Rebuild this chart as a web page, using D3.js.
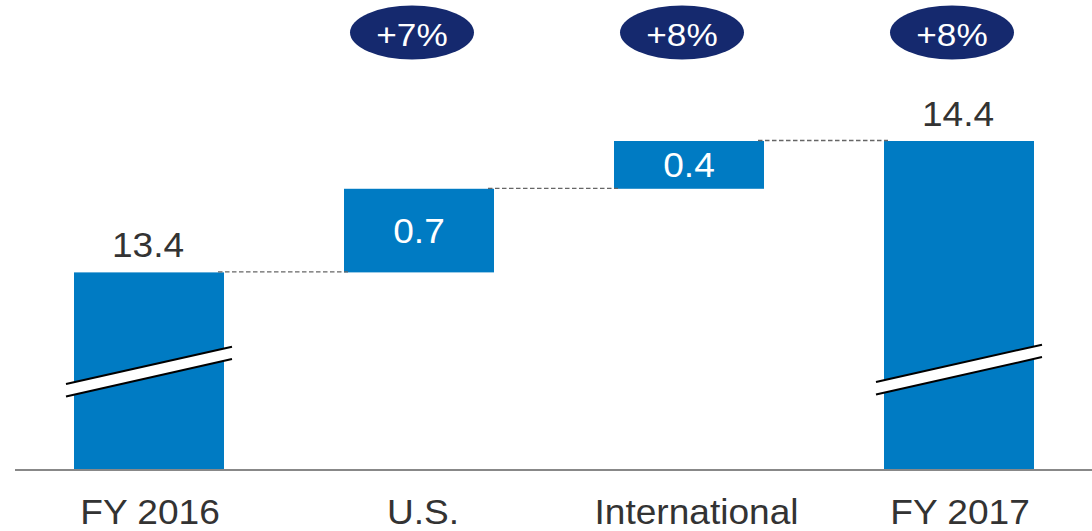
<!DOCTYPE html>
<html>
<head>
<meta charset="utf-8">
<script src="https://cdn.jsdelivr.net/npm/d3@7"></script>
<style>
  html, body { margin: 0; padding: 0; background: #fff; }
  svg { display: block; }
  text { font-family: "Liberation Sans", Arial, sans-serif; }
</style>
</head>
<body>
<svg id="chart" width="1092" height="531"></svg>
<script>
// ---- data ----
const categories = ["FY 2016", "U.S.", "International", "FY 2017"];
const barTypes   = ["total", "delta", "delta", "total"];
const values     = [13.4, 0.7, 0.4, 14.5];
const valueLabels = ["13.4", "0.7", "0.4", "14.4"];
const growthLabels = [null, "+7%", "+8%", "+8%"];
const axisBreakValue = 12.57;  // where the broken-axis mark sits
const yMin = 11.754;           // axis starts here (broken axis)
const yMax = 14.5;

// ---- layout ----
const svg = d3.select("#chart");
const x = d3.scaleBand().domain(categories).range([14, 1094])
  .paddingInner(120 / 270).paddingOuter(60 / 270);
const y = d3.scaleLinear().domain([yMin, yMax]).range([469, 141]);
const labelNudge = [1, 4, 7.5, 1];

const barColor = "#007BC3";
const navy = "#15296E";
const textDark = "#333333";

let running = 0;
const bars = categories.map((c, i) => {
  let lo, hi;
  if (barTypes[i] === "total") { lo = yMin; hi = values[i]; running = values[i]; }
  else { lo = running; hi = running + values[i]; running = hi; }
  return { cat: c, i, type: barTypes[i], lo, hi, label: valueLabels[i], growth: growthLabels[i] };
});

// bars
svg.append("g").selectAll("rect").data(bars).join("rect")
  .attr("x", d => x(d.cat))
  .attr("width", x.bandwidth())
  .attr("y", d => y(d.hi))
  .attr("height", d => y(d.lo) - y(d.hi))
  .attr("fill", barColor);

// dashed connectors
const conn = [];
for (let i = 0; i < bars.length - 1; i++) {
  conn.push({ x1: x(bars[i].cat) + x.bandwidth() - 6, x2: x(bars[i + 1].cat) + 4, v: bars[i].hi });
}
svg.append("g").selectAll("line").data(conn).join("line")
  .attr("x1", d => d.x1).attr("x2", d => d.x2)
  .attr("y1", d => y(d.v) - 0.5).attr("y2", d => y(d.v) - 0.5)
  .attr("stroke", "#666").attr("stroke-width", 1.3)
  .attr("stroke-dasharray", "4.5,2.5");

// axis break marks on total bars
const slope = -0.225, ext = 83, halfGap = 6.2;
const breakG = svg.append("g");
bars.filter(d => d.type === "total").forEach((d, k) => {
  const cx = x(d.cat) + x.bandwidth() / 2;
  const cy = y(axisBreakValue) - (k === 1 ? 2 : 0);
  const yl = cy - slope * ext, yr = cy + slope * ext;
  breakG.append("polygon")
    .attr("points", [
      [cx - ext, yl - halfGap], [cx + ext, yr - halfGap],
      [cx + ext, yr + halfGap], [cx - ext, yl + halfGap]
    ].map(p => p.join(",")).join(" "))
    .attr("fill", "#fff");
  [-halfGap, halfGap].forEach(off => {
    breakG.append("line")
      .attr("x1", cx - ext).attr("y1", yl + off)
      .attr("x2", cx + ext).attr("y2", yr + off)
      .attr("stroke", "#000").attr("stroke-width", 2);
  });
});

// baseline axis line
svg.append("line")
  .attr("x1", 15).attr("x2", 1092)
  .attr("y1", 470).attr("y2", 470)
  .attr("stroke", "#888").attr("stroke-width", 2);

// value labels
svg.append("g").selectAll("text").data(bars).join("text")
  .attr("transform", d => {
    const tx = x(d.cat) + x.bandwidth() / 2 + (d.type === "total" ? -1 : 0);
    const ty = d.type === "total" ? y(d.hi) - 15 : (y(d.hi) + y(d.lo)) / 2 + 12.5;
    return `translate(${tx},${ty}) scale(1.06,1)`;
  })
  .attr("text-anchor", "middle")
  .attr("font-size", 35)
  .attr("fill", d => d.type === "total" ? textDark : "#fff")
  .text(d => d.label);

// growth ellipses
const gg = svg.append("g").selectAll("g").data(bars.filter(d => d.growth)).join("g")
  .attr("transform", d => `translate(${x(d.cat) + x.bandwidth() / 2 - 7},32.5)`);
gg.append("ellipse").attr("rx", 62).attr("ry", 27).attr("fill", navy);
gg.append("text").attr("transform", "translate(0,13) scale(1.1,1)")
  .attr("text-anchor", "middle")
  .attr("font-size", 32).attr("fill", "#fff").text(d => d.growth);

// category labels
svg.append("g").selectAll("text").data(categories).join("text")
  .attr("transform", (d, i) => `translate(${x(d) + x.bandwidth() / 2 + labelNudge[i]},523.5) scale(1.06,1)`)
  .attr("text-anchor", "middle")
  .attr("font-size", 35)
  .attr("fill", textDark)
  .text(d => d);
</script>
</body>
</html>
